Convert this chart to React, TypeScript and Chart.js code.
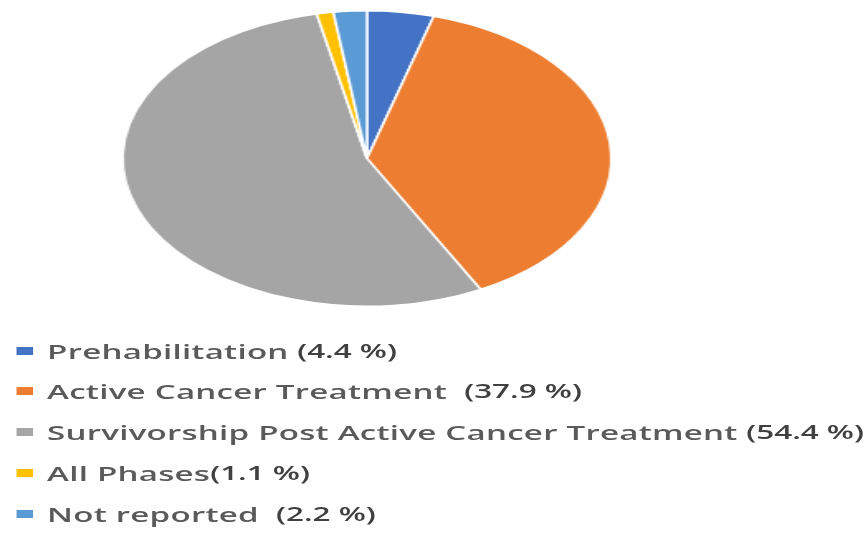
import React, { useEffect, useRef } from "react";
import { Chart, registerables } from "chart.js";

Chart.register(...registerables);

const categories = [
  "Prehabilitation",
  "Active Cancer Treatment",
  "Survivorship Post Active Cancer Treatment",
  "All Phases",
  "Not reported",
];
const values = [4.4, 37.9, 54.4, 1.1, 2.2];
const percentLabels = ["(4.4 %)", "(37.9 %)", "(54.4 %)", "(1.1 %)", "(2.2 %)"];
const colors = ["#4472C4", "#ED7D31", "#A5A5A5", "#FFC000", "#5B9BD5"];
const separators = [" ", "  ", " ", "", "  "];

const SX = 1.653;
const W = Math.round(868 / SX);
const ROW_CENTERS = [351, 391, 432, 473, 514];

export default function App() {
  const ref = useRef<HTMLCanvasElement>(null);
  useEffect(() => {
    const chart = new Chart(ref.current!, {
      type: "pie",
      data: {
        labels: categories,
        datasets: [
          {
            data: values,
            backgroundColor: colors,
            borderColor: "#ffffff",
            borderWidth: 1.5,
            hoverOffset: 0,
          },
        ],
      },
      options: {
        responsive: false,
        animation: false,
        layout: { padding: { top: 10, bottom: 13, left: 0, right: 81 } },
        plugins: { legend: { display: false }, tooltip: { enabled: false } },
      },
    });
    return () => chart.destroy();
  }, []);

  return (
    <div
      style={{
        position: "fixed",
        left: 0,
        top: 0,
        width: 868,
        height: 533,
        background: "#ffffff",
        overflow: "hidden",
      }}
    >
      <div
        style={{
          position: "absolute",
          left: 0,
          top: 0,
          width: W,
          height: 533,
          transform: `scaleX(${SX})`,
          transformOrigin: "0 0",
        }}
      >
        <canvas ref={ref} width={W} height={320} style={{ display: "block" }} />
        {categories.map((c, i) => (
          <div
            key={c}
            style={{
              position: "absolute",
              left: 0,
              top: ROW_CENTERS[i] - 15,
              height: 30,
              display: "flex",
              alignItems: "center",
              whiteSpace: "pre",
              fontFamily: "'Open Sans', sans-serif",
              fontSize: 20,
              color: "#5a5a5a",
            }}
          >
            <span
              style={{
                display: "inline-block",
                marginLeft: 9.7,
                width: 10,
                height: 8,
                background: colors[i],
                marginRight: 8.8,
              }}
            />
            <span style={{ letterSpacing: 0.15, fontWeight: 600 }}>{c}</span>
            <span>{separators[i]}</span>
            <span style={{ fontWeight: 600, color: "#404040", fontSize: 19 }}>{percentLabels[i]}</span>
          </div>
        ))}
      </div>
    </div>
  );
}
